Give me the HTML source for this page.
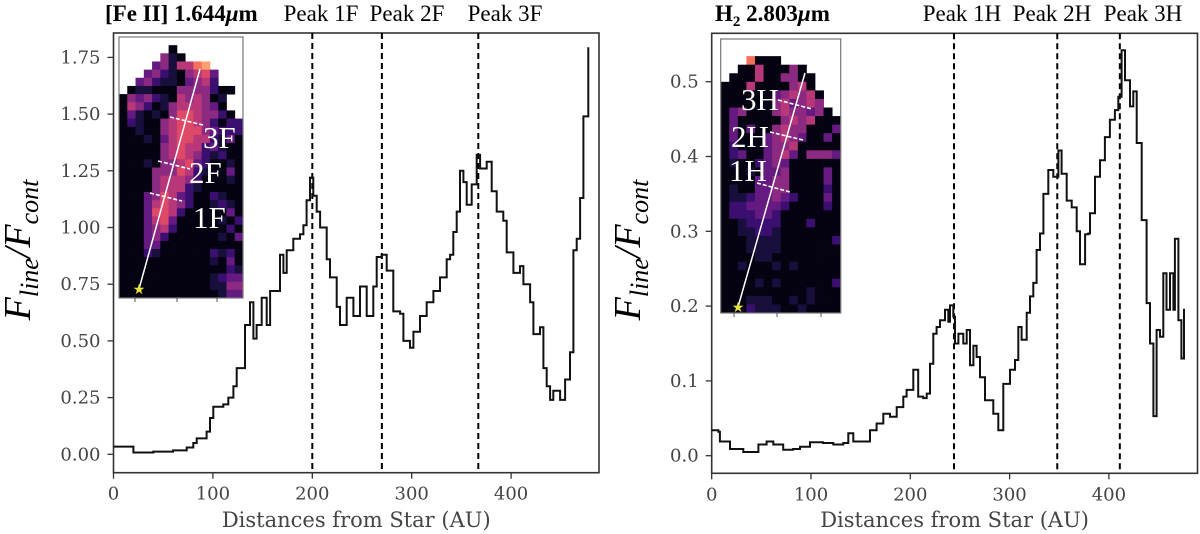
<!DOCTYPE html>
<html><head><meta charset="utf-8">
<style>
html,body{margin:0;padding:0;background:#fff;}
svg{display:block;}
.tick{font-family:"DejaVu Serif",serif;font-size:18px;fill:#444;}
.xt{font-family:"DejaVu Serif",serif;font-size:21px;fill:#444;}
.ttl{font-family:"Liberation Serif",serif;font-size:23px;fill:#000;}
.ins{font-family:"Liberation Serif",serif;font-size:31px;fill:#fff;}
.yl{font-family:"Liberation Serif",serif;font-style:italic;font-size:38px;fill:#000;}
</style></head>
<body>
<svg id="fig" width="1200" height="534" viewBox="0 0 1200 534" xmlns="http://www.w3.org/2000/svg">
<g id="left"></g>
<g id="right"></g>
</svg>
<script>
// ---- Left panel data: [Fe II] 1.644um
const feX = [0,20,40,60,73.6,80.3,83.7,93.7,97.1,100.4,110.5,115.5,120.6,123.9,132.3,137.3,140.7,144,149.1,154.1,157.5,164.2,167.5,170.9,174.2,180.9,187.6,191,194.3,197.7,201,204.4,207.8,214.5,217.8,224.5,227.9,234.6,241.3,248,254.7,261.4,264.8,269.8,274.8,281.5,288.3,291.6,298.3,301.7,308.4,315.1,321.8,328.5,335.2,338.6,341.9,345.3,348.6,352,355.3,360.4,365.4,368.8,375.5,380.5,385.5,392.2,395.6,402.3,409,412.4,419.1,422.4,429.1,432.5,435.8,439.2,442.5,449.3,454.3,459.3,462.7,466,469.4,472.7,477.7];
const feY = [0.034,0.008,0.012,0.017,0.03,0.05,0.07,0.10,0.16,0.21,0.22,0.25,0.30,0.38,0.57,0.67,0.51,0.57,0.69,0.57,0.72,0.72,0.88,0.80,0.90,0.95,0.97,1.01,1.12,1.22,1.14,1.07,1.0,0.86,0.78,0.65,0.57,0.69,0.61,0.74,0.61,0.74,0.87,0.88,0.81,0.63,0.62,0.50,0.47,0.54,0.61,0.67,0.72,0.78,0.86,0.88,0.98,1.07,1.25,1.20,1.10,1.19,1.32,1.26,1.29,1.16,1.07,1.03,0.89,0.80,0.83,0.75,0.67,0.53,0.56,0.38,0.30,0.24,0.28,0.24,0.33,0.45,0.90,0.95,1.13,1.49,1.79];
const feYTicks = [0,0.25,0.5,0.75,1.0,1.25,1.5,1.75];
const feYLabels = ["0.00","0.25","0.50","0.75","1.00","1.25","1.50","1.75"];
const fePeaks = [200,270,367];
const fePeakLabels = ["Peak 1F","Peak 2F","Peak 3F"];
const xTicks = [0,100,200,300,400];

// ---- Right panel data: H2 2.803um
const h2X = [0,6.7,8.3,18.4,31.8,43.6,47,55.3,62,72,82,88.9,99,112,122.5,132.5,137.6,142.6,152.7,159.4,166.1,172.8,179.6,186.3,193,196.3,203,208,213,216.5,219.8,223.2,226.5,229.9,234.9,238.3,240,243.3,245,248.4,253.4,256.8,260.1,263.5,266.8,270.2,275.2,283.6,288.6,293.7,300.4,305.4,308.8,312.1,317.2,320.5,323.9,327.2,330.6,334,339,344,349.1,352.4,357.5,362.5,367.6,370.9,376,379.3,381,386,391,396,401,406,409.5,412.8,416.2,421.2,424.6,428,433,438,441.4,444.8,448,451.5,454.8,458,461.5,465,466.5,470,473,475.6];
const h2Y = [0.034,0.032,0.019,0.009,0.005,0.005,0.015,0.019,0.015,0.008,0.009,0.012,0.018,0.017,0.015,0.017,0.030,0.019,0.019,0.034,0.043,0.056,0.052,0.065,0.079,0.088,0.115,0.079,0.077,0.083,0.123,0.163,0.172,0.181,0.195,0.179,0.201,0.186,0.150,0.163,0.150,0.168,0.121,0.147,0.132,0.105,0.074,0.056,0.034,0.096,0.115,0.128,0.172,0.155,0.191,0.213,0.231,0.275,0.297,0.350,0.382,0.373,0.408,0.377,0.341,0.332,0.300,0.256,0.296,0.297,0.324,0.373,0.395,0.426,0.449,0.462,0.480,0.542,0.502,0.467,0.487,0.418,0.315,0.204,0.150,0.053,0.168,0.159,0.244,0.195,0.244,0.195,0.290,0.181,0.130,0.195];
const h2YTicks = [0,0.1,0.2,0.3,0.4,0.5];
const h2YLabels = ["0.0","0.1","0.2","0.3","0.4","0.5"];
const h2Peaks = [244,348,411];
const h2PeakLabels = ["Peak 1H","Peak 2H","Peak 3H"];

const NS = "http://www.w3.org/2000/svg";
function mk(parent, tag, attrs, text){
  const e = document.createElementNS(NS, tag);
  for (const k in attrs) e.setAttribute(k, attrs[k]);
  if (text !== undefined) e.textContent = text;
  parent.appendChild(e);
  return e;
}

const MAGMA = {"0":"#050312","1":"#180f3d","2":"#3b0f70","3":"#641a80","4":"#8c2981","5":"#b73779","6":"#de4968","7":"#f7705c","8":"#fea16e"};

const feGrid = [
"...............",
"......0........",
".....410.......",
"....3415578....",
"...342104563...",
"..3421103452...",
".0110004444200.",
"0434210545401..",
"0542014555430..",
"03101046654420.",
"021004566542022",
"001004566643222",
"000103566552130",
"000004565523100",
"000004565421200",
"000104456320010",
"000044465210030",
"000045554200010",
"000045552100000",
"000346532002100",
"000356542001210",
"000366520000030",
"000356300000102",
"000345200000020",
"000342000000103",
"000330000000000",
"000210000002120",
"000000000001030",
"000000000000021",
"000000000001233",
"000000000001144",
"000000000000133"];
const h2Grid = [
"..............",
"..............",
"...7000.......",
"..00500040....",
".0005004400...",
"00050000450...",
"000000345450..",
"000000453454..",
"0340004544340.",
"03000004545000",
"03030045440003",
"03000345430030",
"02000344500000",
"02300345304443",
"01002343000000",
"00010334000030",
"00003344000030",
"01003344000020",
"01123343200030",
"02233332000020",
"02223320000000",
"00122220002000",
"00112210000000",
"00011110000002",
"00011110000000",
"00001100000000",
"00100010100000",
"00000000000000",
"00001010000002",
"00000000001000",
"00011100101000",
"00021110010000"];

function panel(g, o){
  const X = v => o.x0 + v*o.sx;
  const Y = v => o.y0 - v*o.sy;
  const ig = mk(g,"g",{});
  
  
  const cw = o.inset.w/o.grid[0].length, ch = o.inset.h/o.grid.length;
  o.grid.forEach((row,r)=>{
    for (let c=0;c<row.length;c++){
      const k = row[c]; if (k===".") continue;
      mk(ig,"rect",{x:(o.inset.x+c*cw).toFixed(2),y:(o.inset.y+r*ch).toFixed(2),width:(cw+0.4).toFixed(2),height:(ch+0.4).toFixed(2),fill:MAGMA[k]});
    }
  });
  mk(ig,"rect",{x:o.inset.x,y:o.inset.y,width:o.inset.w,height:o.inset.h,fill:"none",stroke:"#777","stroke-width":1.2});
  o.inset.ticks.forEach(tx=>mk(ig,"line",{x1:tx,x2:tx,y1:o.inset.y+o.inset.h,y2:o.inset.y+o.inset.h+4,stroke:"#555","stroke-width":1}));
  mk(ig,"line",{x1:o.inset.star[0],y1:o.inset.star[1],x2:o.inset.end[0],y2:o.inset.end[1],stroke:"#fff","stroke-width":1.5});
  o.inset.cuts.forEach(cu=>mk(ig,"line",{x1:cu[0],y1:cu[1],x2:cu[2],y2:cu[3],stroke:"#fff","stroke-width":1.6,"stroke-dasharray":"4,2"}));
  o.inset.labels.forEach(L=>{
    const t = mk(ig,"text",{x:L[1],y:L[2],class:"ins"},L[0]);
    
    
  });
  const st = mk(ig,"text",{x:o.inset.star[0],y:o.inset.star[1]+5,"text-anchor":"middle","font-size":"14",fill:"#e8e23a","font-family":"DejaVu Sans, sans-serif"},"★");
  
  

  const fr = mk(g,"rect",{x:o.box[0],y:o.box[1],width:o.box[2]-o.box[0],height:o.box[3]-o.box[1],fill:"none",stroke:"#333","stroke-width":1.6});
  
  
  xTicks.forEach(v=>{
    mk(g,"line",{x1:X(v),x2:X(v),y1:o.box[3],y2:o.box[3]+6,stroke:"#333","stroke-width":1.3});
    const t = mk(g,"text",{x:X(v),y:o.box[3]+27,"text-anchor":"middle",class:"tick"},String(v));
    
    
  });
  o.yTicks.forEach((v,i)=>{
    mk(g,"line",{x1:o.box[0]-6,x2:o.box[0],y1:Y(v),y2:Y(v),stroke:"#333","stroke-width":1.3});
    const t = mk(g,"text",{x:o.box[0]-13,y:Y(v)+6,"text-anchor":"end",class:"tick"},o.yLabels[i]);
    
    
  });
  o.peaks.forEach((p,i)=>{
    const l = mk(g,"line",{x1:X(p),x2:X(p),y1:o.box[1],y2:o.box[3],stroke:"#000","stroke-width":2,"stroke-dasharray":"6,4"});
    
    
    const t = mk(g,"text",{x:o.peakLabelX[i],y:21,"text-anchor":"middle",class:"ttl"},o.peakLabels[i]);
    
    
  });
  let d = "M"+X(o.xs[0]).toFixed(1)+","+Y(o.ys[0]).toFixed(1);
  for (let i=1;i<o.xs.length;i++){
    d += "H"+X(o.xs[i]).toFixed(1)+"V"+Y(o.ys[i]).toFixed(1);
  }
  d += "H"+X(o.xs[o.xs.length-1]+1).toFixed(1);
  const pth = mk(g,"path",{d:d,fill:"none",stroke:"#111","stroke-width":2,"stroke-linejoin":"miter"});
  
  
  const xt = mk(g,"text",{x:(o.box[0]+o.box[2])/2,y:527,"text-anchor":"middle",class:"xt"},"Distances from Star (AU)");
  
  
  const yt = mk(g,"text",{x:0,y:0,class:"yl",transform:"translate("+o.ylx+",250) rotate(-90)","text-anchor":"middle"});
  
  
  mk(yt,"tspan",{},"F");
  mk(yt,"tspan",{"font-size":"26","dy":"8"},"line");
  mk(yt,"tspan",{"dy":"-8"},"/F");
  mk(yt,"tspan",{"font-size":"26","dy":"8"},"cont");
  const tt = mk(g,"text",{x:o.titleX,y:21,class:"ttl","font-weight":"bold"});
  
  
  o.title(tt);
}

panel(document.getElementById("left"),{
  prefix:"feii", x0:113.5, sx:0.994, y0:454.3, sy:226.8, box:[113.5,33,599,472.7],
  xs:feX, ys:feY, yTicks:feYTicks, yLabels:feYLabels, peaks:fePeaks, peakLabels:fePeakLabels,
  peakLabelX:[321,407,505], ylx:30, titleX:105, grid:feGrid,
  inset:{x:119,y:37,w:124,h:261,ticks:[135,177,217],star:[139,289],end:[200,69],
    cuts:[[170,117,203,125],[158,161,190,169],[150,193,182,201]],
    labels:[["3F",203,148],["2F",189,183],["1F",193,228]]},
  title:t=>{ mk(t,"tspan",{},"[Fe II] 1.644"); mk(t,"tspan",{"font-style":"italic"},"μ"); mk(t,"tspan",{},"m"); }
});
panel(document.getElementById("right"),{
  prefix:"h2", x0:711.7, sx:0.993, y0:455.7, sy:748, box:[711.7,33.3,1197.5,473.3],
  xs:h2X, ys:h2Y, yTicks:h2YTicks, yLabels:h2YLabels, peaks:h2Peaks, peakLabels:h2PeakLabels,
  peakLabelX:[962,1052,1143], ylx:640, titleX:715, grid:h2Grid,
  inset:{x:720.7,y:39,w:120,h:274,ticks:[734,777,821],star:[738,307],end:[805,73],
    cuts:[[778,100,812,109],[770,132,803,140],[757,183,790,192]],
    labels:[["3H",741,110],["2H",731,147],["1H",729,181]]},
  title:t=>{ mk(t,"tspan",{},"H"); mk(t,"tspan",{"font-size":"15","dy":"5"},"2"); mk(t,"tspan",{"dy":"-5"}," 2.803"); mk(t,"tspan",{"font-style":"italic"},"μ"); mk(t,"tspan",{},"m"); }
});
</script>
</body></html>
